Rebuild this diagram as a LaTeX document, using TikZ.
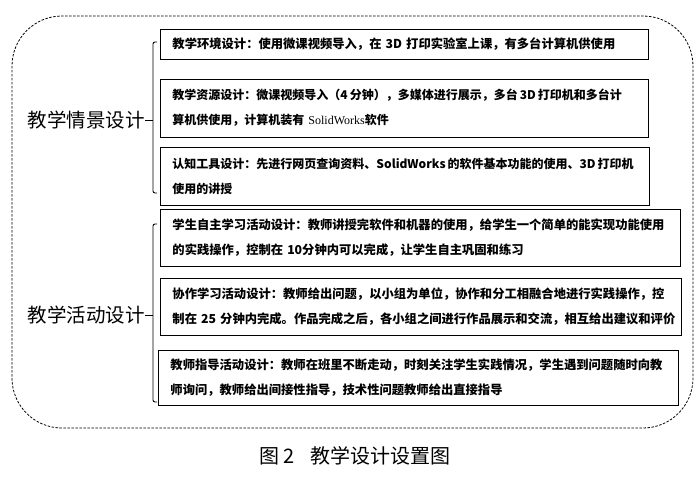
\documentclass[tikz,border=0pt]{standalone}
\usepackage{fontspec}
\setmainfont{Noto Sans CJK SC}
\newfontfamily\romanfont{Liberation Serif}

\begin{document}
\begin{tikzpicture}[x=1pt,y=-1pt,
    designbox/.style={draw, line width=0.9pt, anchor=west, inner xsep=12pt, align=left,
        font=\bfseries\fontsize{12.3}{25}\selectfont},
    tightbox/.style={designbox, font=\bfseries\fontsize{12}{25}\selectfont},
    grouplabel/.style={anchor=east, inner sep=0pt, font=\fontsize{19.5}{20}\selectfont},
    brace/.style={line width=0.9pt, rounded corners=2pt}]
        \useasboundingbox (0,0) rectangle (700,476);
        % dashed outer frame
        \draw[dash pattern=on 2.5pt off 1.5pt, line width=0.8pt, rounded corners=50pt] (12,16) rectangle (693,428);
        % situation design
        \node[designbox, text width=464pt, minimum height=30pt] (env) at (160,44)
            {教学环境设计：使用微课视频导入，在~3D~打印实验室上课，有多台计算机供使用};
        \node[tightbox, text width=464pt, minimum height=58pt] (res) at (160,108)
            {教学资源设计：微课视频导入（4\,分钟），多媒体进行展示，多台\,3D\,打印机和多台计\\算机供使用，计算机装有~{\romanfont\mdseries SolidWorks}软件};
        \node[tightbox, text width=465pt, minimum height=58pt] (tool) at (160,176)
            {认知工具设计：先进行网页查询资料、SolidWorks\,的软件基本功能的使用、3D\,打印机\\使用的讲授};
        % activity design
        \node[designbox, text width=496pt, minimum height=57pt] (self) at (160,237.5)
            {学生自主学习活动设计：教师讲授完软件和机器的使用，给学生一个简单的能实现功能使用\\的实践操作，控制在~10分钟内可以完成，让学生自主巩固和练习};
        \node[designbox, text width=497pt, minimum height=57pt] (coop) at (160,306.5)
            {协作学习活动设计：教师给出问题，以小组为单位，协作和分工相融合地进行实践操作，控\\制在~25~分钟内完成。作品完成之后，各小组之间进行作品展示和交流，相互给出建议和评价};
        \node[designbox, text width=496pt, minimum height=55pt] (guide) at (158,377.5)
            {教师指导活动设计：教师在班里不断走动，时刻关注学生实践情况，学生遇到问题随时向教\\师询问，教师给出间接性指导，技术性问题教师给出直接指导};
        % group labels and braces
        \node[grouplabel] (situation) at (145,120) {教学情景设计};
        \node[grouplabel] (activity) at (145,315) {教学活动设计};
        \coordinate (top1) at (157,42);
        \coordinate (mid1) at (153,120);
        \coordinate (bot1) at (157,193);
        \coordinate (top2) at (157,224);
        \coordinate (mid2) at (153,315);
        \coordinate (bot2) at (157,402);
        \draw[brace] (top1) -| (mid1) |- (bot1);
        \draw[brace] (top2) -| (mid2) |- (bot2);
        \draw[line width=0.9pt] (situation.east) -- (mid1);
        \draw[line width=0.9pt] (activity.east) -- (mid2);
        % caption
        \node[font=\fontsize{20}{22}\selectfont] (caption) at (355,456) {图~2\hspace{0.8em}教学设计设置图};
\end{tikzpicture}
\end{document}
